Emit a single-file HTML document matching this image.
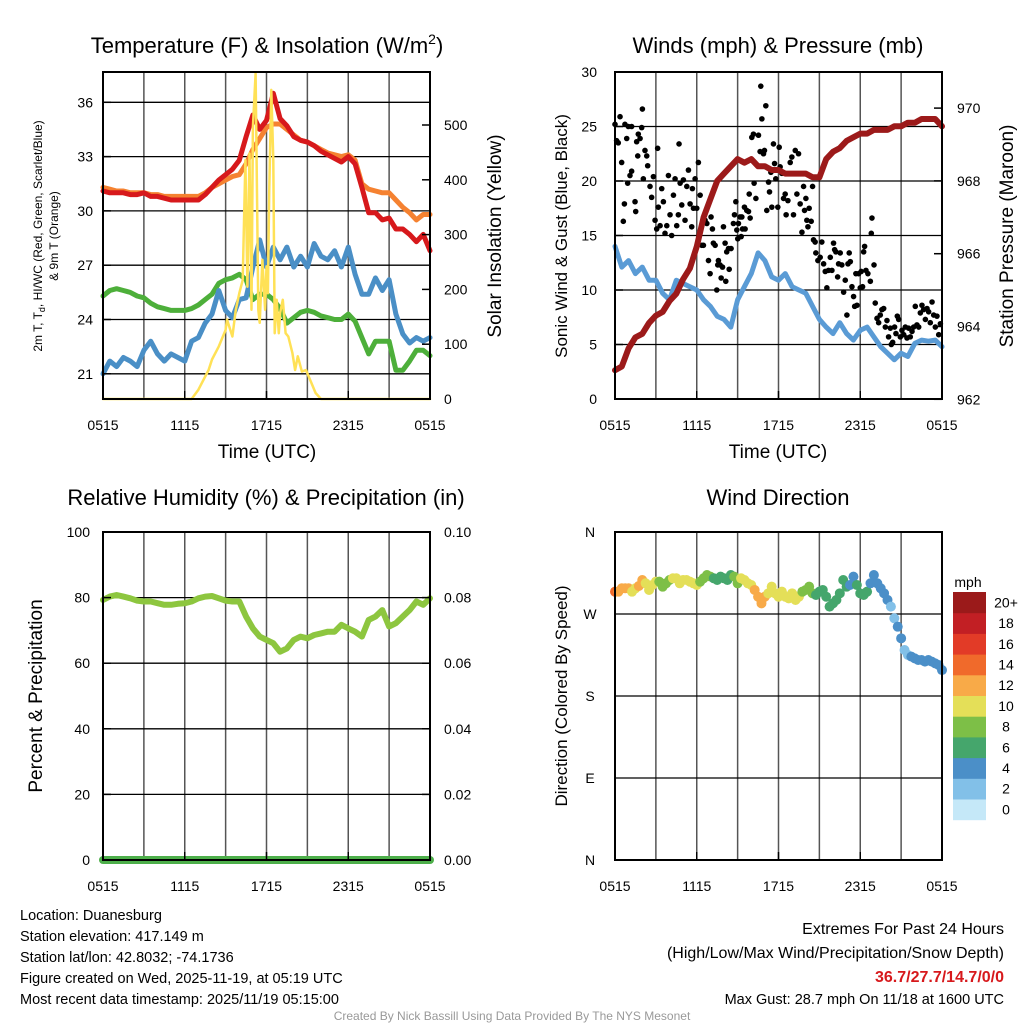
<!DOCTYPE html>
<html><head><meta charset="utf-8"><style>
body{margin:0;background:#fff;}
svg{font-family:"Liberation Sans",Arial,sans-serif;}
</style></head><body>
<svg id="c" width="1024" height="1024" viewBox="0 0 1024 1024" xmlns="http://www.w3.org/2000/svg">
<rect width="1024" height="1024" fill="#fff"/>
<g id="grid"></g>
<g id="series"></g>
<g id="frames"></g>
<g id="labels" fill="#000">
<text x="267" y="53" font-size="22" text-anchor="middle">Temperature (F) &amp; Insolation (W/m<tspan font-size="14" dy="-9">2</tspan><tspan dy="9">)</tspan></text>
<text x="778" y="53" font-size="22" text-anchor="middle">Winds (mph) &amp; Pressure (mb)</text>
<text x="266" y="505" font-size="22" text-anchor="middle">Relative Humidity (%) &amp; Precipitation (in)</text>
<text x="778" y="505" font-size="22" text-anchor="middle">Wind Direction</text>
<text x="267" y="458" font-size="19" text-anchor="middle">Time (UTC)</text>
<text x="778" y="458" font-size="19" text-anchor="middle">Time (UTC)</text>
<text transform="translate(42,236) rotate(-90)" font-size="12" text-anchor="middle">2m T, T<tspan font-size="9" dy="3">d</tspan><tspan dy="-3">, HI/WC (Red, Green, Scarlet/Blue)</tspan></text>
<text transform="translate(58,236) rotate(-90)" font-size="12" text-anchor="middle">&amp; 9m T (Orange)</text>
<text transform="translate(501,236) rotate(-90)" font-size="19" text-anchor="middle">Solar Insolation (Yellow)</text>
<text transform="translate(567,236) rotate(-90)" font-size="17" text-anchor="middle">Sonic Wind &amp; Gust (Blue, Black)</text>
<text transform="translate(1013,236) rotate(-90)" font-size="19" text-anchor="middle">Station Pressure (Maroon)</text>
<text transform="translate(42,696) rotate(-90)" font-size="19" text-anchor="middle">Percent &amp; Precipitation</text>
<text transform="translate(567,696) rotate(-90)" font-size="17" text-anchor="middle">Direction (Colored By Speed)</text>
<text x="968" y="587" font-size="14" text-anchor="middle">mph</text>
<g font-size="14.5">
<text x="20" y="920">Location: Duanesburg</text>
<text x="20" y="941">Station elevation: 417.149 m</text>
<text x="20" y="962">Station lat/lon: 42.8032; -74.1736</text>
<text x="20" y="983">Figure created on Wed, 2025-11-19, at 05:19 UTC</text>
<text x="20" y="1004">Most recent data timestamp: 2025/11/19 05:15:00</text>
</g>
<g text-anchor="end">
<text x="1004" y="934" font-size="16">Extremes For Past 24 Hours</text>
<text x="1004" y="958" font-size="16">(High/Low/Max Wind/Precipitation/Snow Depth)</text>
<text x="1004" y="982" font-size="16" font-weight="bold" fill="#d7191c">36.7/27.7/14.7/0/0</text>
<text x="1004" y="1004" font-size="14.5">Max Gust: 28.7 mph On 11/18 at 1600 UTC</text>
</g>
<text x="512" y="1020" font-size="12" fill="#999" text-anchor="middle">Created By Nick Bassill Using Data Provided By The NYS Mesonet</text>
</g>
</svg>
<script>
// ---------- DATA ----------
const hourTicks = [0, 6, 12, 18, 24];
const hourTickLabels = ["0515", "1115", "1715", "2315", "0515"];
const temp2m = [31.1,31.0,31.0,31.0,30.9,30.9,31.0,30.8,30.8,30.7,30.6,30.6,30.6,30.6,30.6,30.9,31.3,31.7,32.0,32.3,32.8,34.1,35.3,34.5,35.0,36.5,35.1,34.7,34.1,33.9,33.8,33.6,33.3,33.1,32.9,32.7,33.0,32.6,31.3,29.9,29.9,29.5,29.6,29.0,29.0,28.7,28.3,28.7,27.8];
const temp9m = [31.3,31.2,31.1,31.1,31.0,31.0,31.0,30.9,30.9,30.8,30.8,30.8,30.8,30.8,30.8,31.0,31.3,31.5,31.7,31.9,32.0,32.6,33.4,34.0,34.6,34.8,34.8,34.5,34.2,33.9,33.8,33.6,33.4,33.2,33.1,33.0,33.1,32.8,31.5,31.2,31.1,31.0,31.0,30.6,30.2,29.9,29.5,29.8,29.8];
const dewpoint = [25.3,25.6,25.7,25.6,25.5,25.3,25.2,24.9,24.7,24.6,24.5,24.5,24.5,24.6,24.8,25.1,25.4,26.0,26.2,26.3,26.5,26.2,25.1,25.4,25.4,25.1,24.6,23.8,24.1,24.4,24.5,24.4,24.2,24.1,24.0,24.0,24.3,23.9,23.0,22.1,22.8,22.8,22.8,21.2,21.2,21.7,22.3,22.3,22.0];
const windChill = [21.0,21.7,21.4,21.9,21.7,21.4,22.3,22.8,22.1,21.7,22.1,21.9,21.7,22.8,23.0,23.8,24.3,25.6,24.5,24.1,25.1,25.2,26.9,28.4,26.9,28.0,27.3,28.0,26.9,27.5,26.9,28.2,27.5,27.3,27.8,26.9,28.0,26.5,25.4,25.4,26.3,25.6,26.2,24.3,23.2,22.7,23.0,22.8,23.0];
const solarHours = [0,6.5,7,7.5,7.75,8,8.5,9,9.1,9.5,9.75,10,10.25,10.45,10.6,10.75,10.9,11.0,11.2,11.3,11.4,11.5,11.7,11.9,12.0,12.1,12.2,12.35,12.5,12.6,12.75,12.9,13.0,13.2,13.4,13.6,13.9,14.1,14.3,14.6,14.9,15.2,15.6,16,24];
const solarVals = [0,0,17,41,53,72,96,126,145,114,163,193,217,436,205,448,163,496,594,375,163,139,254,163,242,193,375,564,436,120,181,120,157,181,120,114,84,53,78,50,53,35,11,0,0];
const windSpeed = [14.0,12.1,12.7,11.5,12.1,10.9,10.9,9.7,9.1,10.9,10.6,10.3,10.0,9.1,8.5,7.6,7.3,6.6,9.1,10.3,11.5,13.4,12.7,11.2,10.9,11.5,10.3,10.0,9.7,8.5,7.3,6.6,6.0,7.0,6.0,5.4,6.3,6.6,5.7,4.8,4.2,3.6,4.2,3.9,5.1,5.4,5.3,5.4,4.8];
const pressure = [962.8,962.9,963.4,963.7,963.8,964.1,964.3,964.4,964.7,964.9,965.3,965.6,966.2,967.0,967.5,968.0,968.2,968.4,968.6,968.5,968.6,968.4,968.4,968.3,968.3,968.2,968.2,968.2,968.2,968.1,968.1,968.6,968.8,968.9,969.1,969.2,969.3,969.3,969.4,969.4,969.4,969.5,969.5,969.6,969.6,969.7,969.7,969.7,969.5];
const gustHours = [0.0,0.12,0.24,0.37,0.49,0.61,0.69,0.73,0.86,0.93,0.98,1.10,1.22,1.22,1.47,1.52,1.59,1.67,1.71,1.84,1.96,2.01,2.08,2.20,2.33,2.40,2.57,2.69,2.82,2.94,3.06,3.13,3.18,3.31,3.43,3.55,3.67,3.80,3.92,4.04,4.16,4.29,4.41,4.53,4.65,4.70,4.78,4.90,5.02,5.14,5.27,5.39,5.51,5.63,5.68,5.76,5.88,6.00,6.12,6.25,6.37,6.49,6.61,6.74,6.86,6.98,7.05,7.15,7.22,7.35,7.47,7.54,7.59,7.71,7.79,7.89,7.96,8.08,8.13,8.20,8.33,8.38,8.52,8.69,8.77,8.87,8.94,9.01,9.06,9.18,9.26,9.31,9.36,9.50,9.55,9.67,9.80,9.85,9.92,10.04,10.16,10.21,10.34,10.53,10.65,10.70,10.78,10.90,10.97,11.07,11.14,11.27,11.34,11.44,11.51,11.63,11.71,11.80,11.88,11.95,12.05,12.12,12.25,12.37,12.49,12.56,12.69,12.86,12.98,13.10,13.23,13.35,13.47,13.59,13.72,13.84,13.91,14.01,14.08,14.16,14.25,14.40,14.50,14.57,14.69,14.74,14.89,15.06,15.18,15.31,15.43,15.55,15.67,15.80,15.92,16.04,16.12,16.21,16.34,16.41,16.53,16.65,16.78,16.90,17.02,17.10,17.19,17.27,17.39,17.51,17.59,17.68,17.76,17.88,18.00,18.07,18.17,18.25,18.32,18.42,18.56,18.74,18.81,18.86,19.01,19.10,19.23,19.35,19.47,19.59,19.72,19.84,19.96,20.08,20.21,20.28,20.38,20.52,20.62,20.72,20.82,20.94,21.06,21.19,21.31,21.43,21.55,21.67,21.80,21.92,22.04,22.16,22.29,22.41,22.53,22.65,22.78,22.90,23.02,23.14,23.27,23.39,23.51,23.63,23.76,23.88];
const gustMph = [25.2,23.7,23.5,25.9,21.7,16.3,17.9,25.2,23.9,19.8,25.0,20.5,20.9,25.0,18.1,17.2,23.6,22.3,24.3,23.9,24.9,26.6,20.2,22.8,22.3,21.4,19.5,18.5,20.4,16.4,15.6,23.0,17.6,15.9,19.3,18.1,15.2,15.9,20.5,16.9,15.0,18.7,20.2,15.9,16.9,23.4,19.8,17.8,20.1,16.4,19.5,21.0,17.9,15.8,19.3,17.5,20.2,17.5,21.7,18.7,14.1,14.1,16.4,16.1,12.7,11.5,16.7,15.6,14.3,14.1,10.0,12.3,12.7,12.3,11.1,12.1,15.8,14.3,10.8,13.5,13.8,11.9,13.8,16.1,16.9,18.1,15.5,14.7,16.1,16.7,14.9,16.7,15.6,17.6,15.6,17.3,17.2,18.8,16.6,24.0,24.3,19.8,18.4,24.2,22.7,28.7,25.7,22.5,22.8,26.9,17.3,19.9,19.0,20.8,17.6,23.4,21.6,20.2,21.0,17.6,23.1,21.3,20.7,18.4,18.8,16.9,18.2,21.7,22.2,16.9,22.8,18.8,22.5,17.9,15.3,19.5,17.3,18.4,16.4,15.8,17.5,16.3,19.5,14.6,14.4,13.4,12.7,13.0,14.4,12.4,11.7,10.2,11.8,13.0,11.8,14.3,13.7,13.5,11.2,12.4,13.4,12.3,9.8,10.9,7.7,12.4,13.4,12.6,10.3,9.4,8.5,11.5,8.6,11.5,10.2,11.7,10.3,13.5,14.0,11.8,11.5,10.8,15.2,16.6,12.3,8.8,7.4,7.0,7.7,8.2,8.3,6.6,7.2,5.7,6.5,5.0,5.2,6.6,6.0,7.6,7.3,5.7,6.3,5.9,6.6,5.6,6.5,5.7,6.2,6.6,8.5,6.8,6.6,7.9,8.6,8.2,7.3,8.3,8.0,7.0,8.9,7.7,6.6,7.6,5.9,6.9];
const rh = [79.3,80.3,80.8,80.3,79.8,79.1,78.8,78.8,78.3,77.8,77.8,78.1,78.3,78.8,79.8,80.3,80.5,79.8,79.1,78.8,78.8,74.2,70.6,68.1,67.1,66.1,63.5,64.5,67.1,68.1,67.6,68.6,69.1,69.6,69.6,71.7,70.6,69.6,68.1,73.2,74.2,76.2,71.2,72.2,74.2,76.2,78.8,77.8,79.8];
const precip = [0,0,0,0,0,0,0,0,0,0,0,0,0,0,0,0,0,0,0,0,0,0,0,0,0,0,0,0,0,0,0,0,0,0,0,0,0,0,0,0,0,0,0,0,0,0,0,0,0];
const windDir = [294.5,294.5,298.2,298.2,298.2,294.5,298.2,300.8,307.3,303.7,296.4,301.8,305.5,305.5,300.0,303.7,307.3,309.2,309.2,303.7,307.3,307.3,305.5,303.7,301.8,305.5,309.2,312.8,311.0,309.2,307.3,311.0,309.2,307.3,312.8,311.0,303.7,309.2,307.3,303.7,301.8,296.4,289.0,281.7,289.0,292.7,300.0,292.7,289.0,294.5,289.0,287.2,292.7,285.4,289.0,294.5,296.4,300.0,292.7,290.9,294.5,296.4,289.0,278.1,281.7,285.4,292.7,307.3,300.0,301.8,311.0,301.8,292.7,290.9,294.5,303.7,312.8,303.7,298.2,292.7,285.4,278.1,265.3,256.1,243.3,230.5,225.0,223.2,221.3,219.5,219.5,217.7,219.5,217.7,215.8,214.0,208.5];
const speedBins = ["0","2","4","6","8","10","12","14","16","18","20+"];
const speedColors = ["#c5e8f8","#82c0e8","#4b8fc8","#45a66c","#7dbf47","#e4df58","#f8aa48","#f06a2b","#e23b27","#c21f24","#9b1a1a"];

// ---------- SCALES ----------
const P = {
  t:{L:103,R:430,T:72,B:399}, w:{L:615,R:942,T:72,B:399},
  r:{L:103,R:430,T:532,B:860}, d:{L:615,R:942,T:532,B:860}
};
const xs = (p,h)=>p.L + h/24*(p.R-p.L);
const yTemp = v=>102.3 + (36-v)*18.1;
const ySolar = v=>399 - v*0.548;
const yWind = v=>399 - v*10.9;
const yPres = v=>399.3 - (v-962)*36.4;
const yRH = v=>860 - v*3.28;
const yPrecip = v=>860 - v*3280;
const yDir = v=>860 - v/360*328;
const idxHour = i=>i*0.5;

const NS="http://www.w3.org/2000/svg";
const G = id=>document.getElementById(id);
function mk(tag, attrs, parent){
  const e=document.createElementNS(NS,tag);
  for(const k in attrs) e.setAttribute(k,attrs[k]);
  parent.appendChild(e); return e;
}
function line(parent,x1,y1,x2,y2,stroke,w){
  const e=mk('line',{x1,y1,x2,y2,stroke,'stroke-width':w},parent);
  return e;
}
function txt(parent,x,y,s,anchor,size){
  const e=mk('text',{x,y,'text-anchor':anchor,'font-size':size},parent);
  e.textContent=s; return e;
}
function seriesPath(parent,hours,vals,p,yf,color,w){
  let d='';
  vals.forEach((v,i)=>{d+=(i?'L':'M')+xs(p,hours[i]).toFixed(1)+','+yf(v).toFixed(1);});
  return mk('path',{d,fill:'none',stroke:color,'stroke-width':w,'stroke-linejoin':'round','stroke-linecap':'round'},parent);
}
const halfHours = temp2m.map((_,i)=>idxHour(i));

// ---------- GRID ----------
const grid=G('grid'), frames=G('frames'), labels=G('labels'), ser=G('series');
for(const key of ['t','w','r','d']){
  const p=P[key];
  for(let h=3;h<24;h+=3){
    const gl=line(grid,xs(p,h),p.T,xs(p,h),p.B,'#555',1.5);
    
    
  }
  const fr=mk('rect',{x:p.L,y:p.T,width:p.R-p.L,height:p.B-p.T,fill:'none',stroke:'#000','stroke-width':2},frames);
  
  
  const xl = key==='t'||key==='w' ? 430 : 891;
  hourTicks.forEach((h,i)=>{
    const t=txt(labels,xs(p,h),xl,hourTickLabels[i],'middle',14);
    
    
    line(frames,xs(p,h),p.B,xs(p,h),p.B-8,'#000',1.5);
  });
}
function hgrid(p,vals,yf,showLine,lx,anchor,fmt){
  vals.forEach(v=>{
    const y=yf(v);
    if(showLine && y>p.T+2 && y<p.B-2){
      const gl=line(grid,p.L,y,p.R,y,'#000',1.3);
      
      
    }
    const t=txt(labels,lx,y+5,fmt(v),anchor,14);
    
    
    const inward = anchor==='end' ? 1 : -1;
    line(frames,anchor==='end'?p.L:p.R,y,(anchor==='end'?p.L:p.R)+inward*8,y,'#000',1.5);
  });
}
hgrid(P.t,[21,24,27,30,33,36],yTemp,true,93,'end',v=>String(v));
hgrid(P.t,[0,100,200,300,400,500],ySolar,false,444,'start',v=>String(v));
hgrid(P.w,[0,5,10,15,20,25,30],yWind,true,597,'end',v=>String(v));
hgrid(P.w,[962,964,966,968,970],yPres,false,957,'start',v=>String(v));
hgrid(P.r,[0,20,40,60,80,100],yRH,true,90,'end',v=>String(v));
hgrid(P.r,[0,0.02,0.04,0.06,0.08,0.10],yPrecip,false,444,'start',v=>v.toFixed(2));
const dirVals=[0,90,180,270,360], dirLabels=['N','E','S','W','N'];
dirVals.forEach((v,i)=>{
  const y=yDir(v);
  if(y>P.d.T+2&&y<P.d.B-2){
    const gl=line(grid,P.d.L,y,P.d.R,y,'#000',1.3);
    
    
  }
  const t=txt(labels,590,y+5,dirLabels[i],'middle',14);
  
  
});

// ---------- SERIES ----------
let s;
s=seriesPath(ser,halfHours,temp9m,P.t,yTemp,'#f58231',5);
 
s=seriesPath(ser,halfHours,temp2m,P.t,yTemp,'#d7191c',5);
 
s=seriesPath(ser,halfHours,dewpoint,P.t,yTemp,'#4daf3a',5);
 
s=seriesPath(ser,halfHours,windChill,P.t,yTemp,'#4a8fc6',5);
 
s=seriesPath(ser,solarHours,solarVals,P.t,ySolar,'#ffe156',2.5);
 

s=seriesPath(ser,halfHours,windSpeed,P.w,yWind,'#5a9bd5',5);
 
gustHours.forEach((h,i)=>{
  const c=mk('circle',{cx:xs(P.w,h),cy:yWind(gustMph[i]),r:2.8,fill:'#000'},ser);
  
  
});
s=seriesPath(ser,halfHours,pressure,P.w,yPres,'#9c1a1a',6);
 

s=seriesPath(ser,halfHours,rh,P.r,yRH,'#8dc63f',6);
 
s=seriesPath(ser,halfHours,precip,P.r,yPrecip,'#4daf4a',8);
 

windDir.forEach((d,k)=>{
  const h=k*0.25;
  const sp=windSpeed[Math.min(windSpeed.length-1,Math.round(h*2))];
  const bi=Math.min(10,Math.floor(sp/2));
  const c=mk('circle',{cx:xs(P.d,h),cy:yDir(d),r:5,fill:speedColors[bi]},ser);
  
  
});

// ---------- COLORBAR ----------
const cbTop=592, cbH=20.7;
speedBins.forEach((lab,i)=>{
  const y=cbTop+(10-i)*cbH;
  const r=mk('rect',{x:953,y:y,width:33,height:cbH+0.5,fill:speedColors[i]},labels);
  
  
  const t=txt(labels,1006,y+cbH/2+5,lab,'middle',14);
  
  
});
</script>
</body></html>
